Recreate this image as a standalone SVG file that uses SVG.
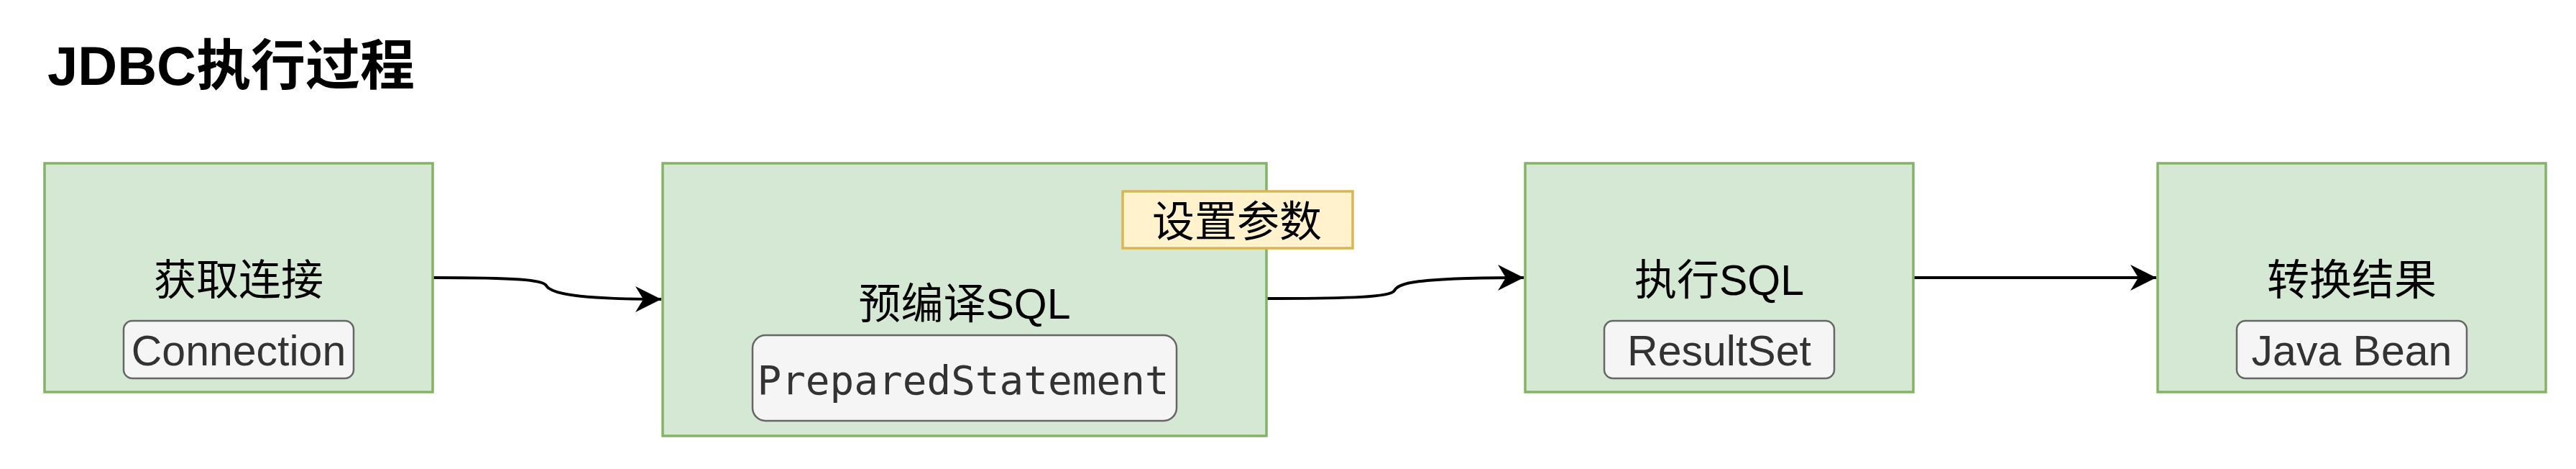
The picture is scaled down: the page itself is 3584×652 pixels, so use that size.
<svg xmlns="http://www.w3.org/2000/svg" width="3584" height="652" viewBox="0 0 3584 652">
<style>
.node{fill:#d5e8d4;stroke:#82b366;stroke-width:3.5}
.pill{fill:#f5f5f5;stroke:#666666;stroke-width:2.5}
.note{fill:#fff2cc;stroke:#d6b656;stroke-width:3.5}
.lbl{font-family:"Liberation Sans","Noto Sans CJK SC",sans-serif;font-size:59px;fill:#000;text-anchor:middle}
.sub{font-family:"Liberation Sans","Noto Sans CJK SC",sans-serif;font-size:59px;fill:#333333;text-anchor:middle}
.mono{font-family:"DejaVu Sans Mono","Liberation Mono",monospace;font-size:56px;fill:#333333;text-anchor:middle}
.edge{fill:none;stroke:#000;stroke-width:4}
.title{font-family:"Liberation Sans","Noto Sans CJK SC",sans-serif;font-size:76px;font-weight:bold;fill:#000}
</style>
<defs>
<marker id="arrow" markerUnits="userSpaceOnUse" markerWidth="40" markerHeight="40" viewBox="-38 -20 40 40" refX="0" refY="0" orient="auto">
<path d="M0,0 L-36,-18 L-25,0 L-36,18 Z" fill="#000"/>
</marker>
</defs>
<rect width="3584" height="652" fill="#ffffff"/>
<text id="title" class="title" x="66" y="118">JDBC执行过程</text>
<g id="connectors">
<path class="edge" d="M603,386 C720,386 755,389 760,397 C765,406 790,416 920,416" marker-end="url(#arrow)"/>
<path class="edge" d="M1763,415 C1880,415 1935,413 1940,404 C1945,394 1965,386 2120,386" marker-end="url(#arrow)"/>
<path class="edge" d="M2662,386 L3000,386" marker-end="url(#arrow)"/>
</g>
<g id="node-connection">
<rect class="node" x="62" y="227" width="540" height="318"/>
<text class="lbl" x="332" y="410">获取连接</text>
<rect class="pill" x="172" y="446" width="320" height="80" rx="12"/>
<text class="sub" x="332" y="508">Connection</text>
</g>
<g id="node-prepare">
<rect class="node" x="922" y="227" width="840" height="379"/>
<text class="lbl" x="1342" y="443">预编译SQL</text>
<rect class="pill" x="1047" y="466" width="590" height="119" rx="18"/>
<text class="mono" x="1340" y="548">PreparedStatement</text>
</g>
<g id="node-params">
<rect class="note" x="1562" y="266" width="320" height="79"/>
<text class="lbl" x="1721" y="329">设置参数</text>
</g>
<g id="node-execute">
<rect class="node" x="2122" y="227" width="540" height="318"/>
<text class="lbl" x="2392" y="410">执行SQL</text>
<rect class="pill" x="2232" y="446" width="320" height="80" rx="12"/>
<text class="sub" x="2392" y="508">ResultSet</text>
</g>
<g id="node-convert">
<rect class="node" x="3002" y="227" width="540" height="318"/>
<text class="lbl" x="3272" y="410">转换结果</text>
<rect class="pill" x="3112" y="446" width="320" height="80" rx="12"/>
<text class="sub" x="3272" y="508">Java Bean</text>
</g>
</svg>
